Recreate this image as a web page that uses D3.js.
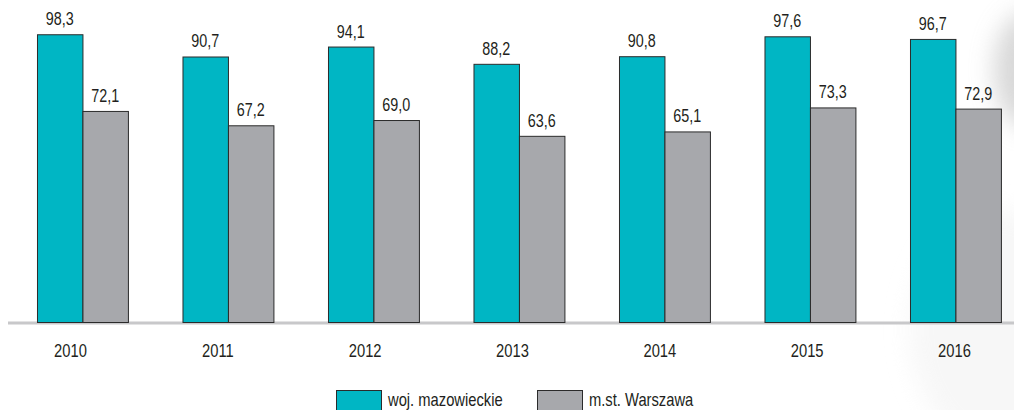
<!DOCTYPE html>
<html>
<head>
<meta charset="utf-8">
<script src="https://cdn.jsdelivr.net/npm/d3@7"></script>
<style>
  html, body { margin: 0; padding: 0; background: #fff; }
  svg { display: block; }
  text { font-family: "Liberation Sans", Arial, sans-serif; fill: #231f20; }
</style>
</head>
<body>
<svg id="chart" width="1014" height="410"></svg>
<script>
// Years on the x axis
const years = ["2010", "2011", "2012", "2013", "2014", "2015", "2016"];
// Series names
const seriesNames = ["woj. mazowieckie", "m.st. Warszawa"];
// Values per year
const mazowieckie = [98.3, 90.7, 94.1, 88.2, 90.8, 97.6, 96.7];
const warszawa = [72.1, 67.2, 69.0, 63.6, 65.1, 73.3, 72.9];
const seriesColors = ["#00b6c4", "#a7a8ac"];

const svg = d3.select("#chart");
const W = 1014;
const NARROW = 0.82; // horizontal squeeze for a condensed look

// soft grey shading in the top-right corner
const defs = svg.append("defs");
const blur = defs.append("filter").attr("id", "soft").attr("x", "-50%").attr("y", "-50%").attr("width", "200%").attr("height", "200%");
blur.append("feGaussianBlur").attr("stdDeviation", 12);
svg.append("ellipse")
  .attr("cx", 1028).attr("cy", 70).attr("rx", 34).attr("ry", 58)
  .attr("fill", "#bdbdbd").attr("opacity", 0.6).attr("filter", "url(#soft)");
svg.append("ellipse")
  .attr("cx", 1000).attr("cy", 330).attr("rx", 90).attr("ry", 120)
  .attr("fill", "#f2f2f2").attr("opacity", 0.6).attr("filter", "url(#soft)");

const baseY = 322;
const y = d3.scaleLinear().domain([0, 110]).range([baseY, 0]);

const x0 = d3.scaleBand().domain(years).range([9.7, 1028.2])
  .paddingInner(0.375).paddingOuter(0.1875);
const x1 = d3.scaleBand().domain(seriesNames).range([0, x0.bandwidth()]);
// year labels sit on their own, slightly wider spacing
const xLabel = d3.scalePoint().domain(years).range([70.5, 954.5]);

const data = years.map((yr, i) => ({
  year: yr,
  vals: [
    { name: seriesNames[0], v: mazowieckie[i], c: seriesColors[0] },
    { name: seriesNames[1], v: warszawa[i], c: seriesColors[1] }
  ]
}));

// baseline
svg.append("line")
  .attr("x1", 8).attr("x2", W).attr("y1", baseY + 1).attr("y2", baseY + 1)
  .attr("stroke", "#c8c8ca").attr("stroke-width", 3);

const groups = svg.selectAll("g.year").data(data).join("g")
  .attr("class", "year")
  .attr("transform", d => `translate(${x0(d.year)},0)`);

groups.selectAll("rect").data(d => d.vals).join("rect")
  .attr("x", d => x1(d.name) + 0.5)
  .attr("y", d => y(d.v) + 0.5)
  .attr("width", x1.bandwidth())
  .attr("height", d => baseY - y(d.v))
  .attr("fill", d => d.c)
  .attr("stroke", "#2b2b2b")
  .attr("stroke-width", 1);

groups.selectAll("text.val").data(d => d.vals).join("text")
  .attr("class", "val")
  .attr("transform", d => `translate(${x1(d.name) + x1.bandwidth() / 2},${y(d.v) - 9}) scale(${NARROW},1)`)
  .attr("text-anchor", "middle")
  .attr("font-size", 17.5)
  .text(d => d.v.toFixed(1).replace(".", ","));

// year labels
svg.selectAll("text.yr").data(years).join("text")
  .attr("class", "yr")
  .attr("transform", d => `translate(${xLabel(d)},${baseY + 35}) scale(${NARROW},1)`)
  .attr("text-anchor", "middle")
  .attr("font-size", 18)
  .text(d => d);

// legend
const legendX = [336, 537];
const legend = svg.selectAll("g.legend").data(seriesNames).join("g")
  .attr("class", "legend")
  .attr("transform", (d, i) => `translate(${legendX[i]},390)`);
legend.append("rect")
  .attr("x", 0.5).attr("y", 0.5).attr("width", 45).attr("height", 22)
  .attr("fill", (d, i) => seriesColors[i])
  .attr("stroke", "#2b2b2b").attr("stroke-width", 1);
legend.append("text")
  .attr("transform", `translate(52,16) scale(${NARROW},1)`)
  .attr("font-size", 18)
  .text(d => d);
</script>
</body>
</html>
